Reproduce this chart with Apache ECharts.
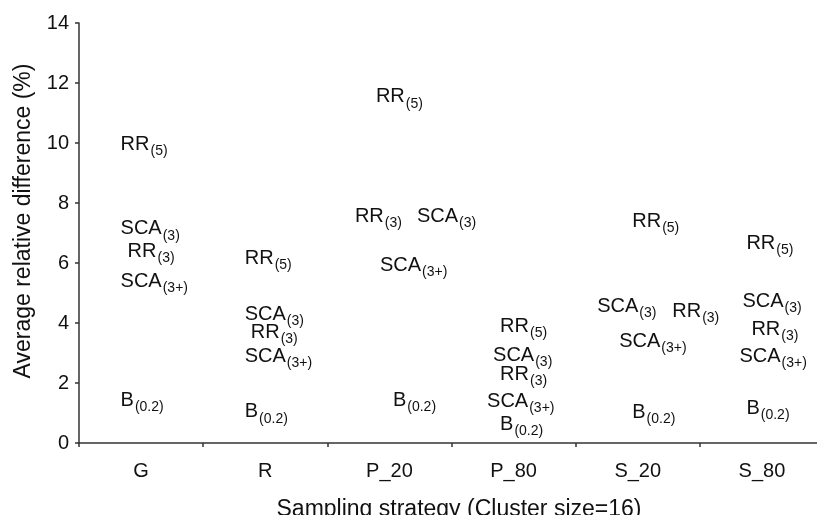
<!DOCTYPE html>
<html>
<head>
<meta charset="utf-8">
<script src="https://cdn.jsdelivr.net/npm/echarts@6/dist/echarts.min.js"></script>
<style>html,body{margin:0;padding:0;background:#fff}#c{width:817px;height:515px}</style>
</head>
<body>
<div id="c"></div>
<script>
// ---- data ----
const categories = ['G', 'R', 'P_20', 'P_80', 'S_20', 'S_80'];
const rr5   = [9.98, 6.20, 11.57, 3.93, 7.42, 6.68];
const sca3  = [7.17, 4.32, 7.60, 2.95, 4.58, 4.75];
const rr3   = [6.43, 3.73, 7.60, 2.32, 4.43, 3.82];
const sca3p = [5.42, 2.92, 5.95, 1.43, 3.42, 2.92];
const b02   = [1.45, 1.07, 1.45, 0.65, 1.05, 1.18];
const yTicks = [0, 2, 4, 6, 8, 10, 12, 14];

// ---- layout (label horizontal placement, px from category centre) ----
const shiftRR5   = [-21, -21, -14, -14, -6, -16];
const shiftSCA3  = [-21, -21, 27, -21, -41, -20];
const shiftRR3   = [-14, -15, -35, -14, 34, -11];
const shiftSCA3p = [-21, -21, -10, -27, -19, -23];
const shiftB02   = [-21, -21, 3, -14, -6, -16];

const FONT = '"Liberation Sans", Arial, Helvetica, sans-serif';
const TXT = '#111';

function mkSeries(name, base, sub, vals, shifts) {
  return {
    name: name,
    type: 'scatter',
    symbolSize: 1,
    itemStyle: { color: 'rgba(0,0,0,0)', opacity: 1 },
    silent: true,
    data: vals.map((v, i) => ({ value: [categories[i], v], label: { offset: [shifts[i], 1] } })),
    label: {
      show: true,
      position: 'right',
      distance: 0,
      opacity: 1,
      formatter: '{m|' + base + '}{s|(' + sub + ')}',
      rich: {
        m: { fontFamily: FONT, fontSize: 20, color: TXT, lineHeight: 20, verticalAlign: 'top' },
        s: { fontFamily: FONT, fontSize: 14, color: TXT, lineHeight: 14, padding: [10, 0, 0, 1], verticalAlign: 'top' }
      }
    }
  };
}

const chart = echarts.init(document.getElementById('c'), null, { renderer: 'canvas' });
chart.setOption({
  backgroundColor: '#fff',
  animation: false,
  grid: { left: 79, width: 745, top: 23, height: 420, containLabel: false, outerBoundsMode: 'none' },
  xAxis: {
    type: 'category',
    data: categories,
    boundaryGap: true,
    name: 'Sampling strategy (Cluster size=16)',
    nameLocation: 'middle',
    nameGap: 55,
    nameTextStyle: { fontFamily: FONT, fontSize: 23, color: TXT, padding: [0, 0, 0, 15] },
    axisLine: { lineStyle: { color: '#333', width: 1.5 } },
    axisTick: { show: true, length: 4, lineStyle: { color: '#333', width: 1.5 } },
    axisLabel: { fontFamily: FONT, fontSize: 20, color: TXT, margin: 18 },
    splitLine: { show: false }
  },
  yAxis: {
    type: 'value',
    min: yTicks[0],
    max: yTicks[yTicks.length - 1],
    interval: yTicks[1] - yTicks[0],
    name: 'Average relative difference (%)',
    nameLocation: 'middle',
    nameGap: 44,
    nameTextStyle: { fontFamily: FONT, fontSize: 23, color: TXT, padding: [0, 0, 0, 24] },
    axisLine: { show: true, lineStyle: { color: '#333', width: 1.5 } },
    axisTick: { show: true, length: 4, lineStyle: { color: '#333', width: 1.5 } },
    axisLabel: { fontFamily: FONT, fontSize: 20, color: TXT, margin: 10 },
    splitLine: { show: false }
  },
  series: [
    mkSeries('RR(5)', 'RR', '5', rr5, shiftRR5),
    mkSeries('SCA(3)', 'SCA', '3', sca3, shiftSCA3),
    mkSeries('RR(3)', 'RR', '3', rr3, shiftRR3),
    mkSeries('SCA(3+)', 'SCA', '3+', sca3p, shiftSCA3p),
    mkSeries('B(0.2)', 'B', '0.2', b02, shiftB02)
  ]
});
</script>
</body>
</html>
